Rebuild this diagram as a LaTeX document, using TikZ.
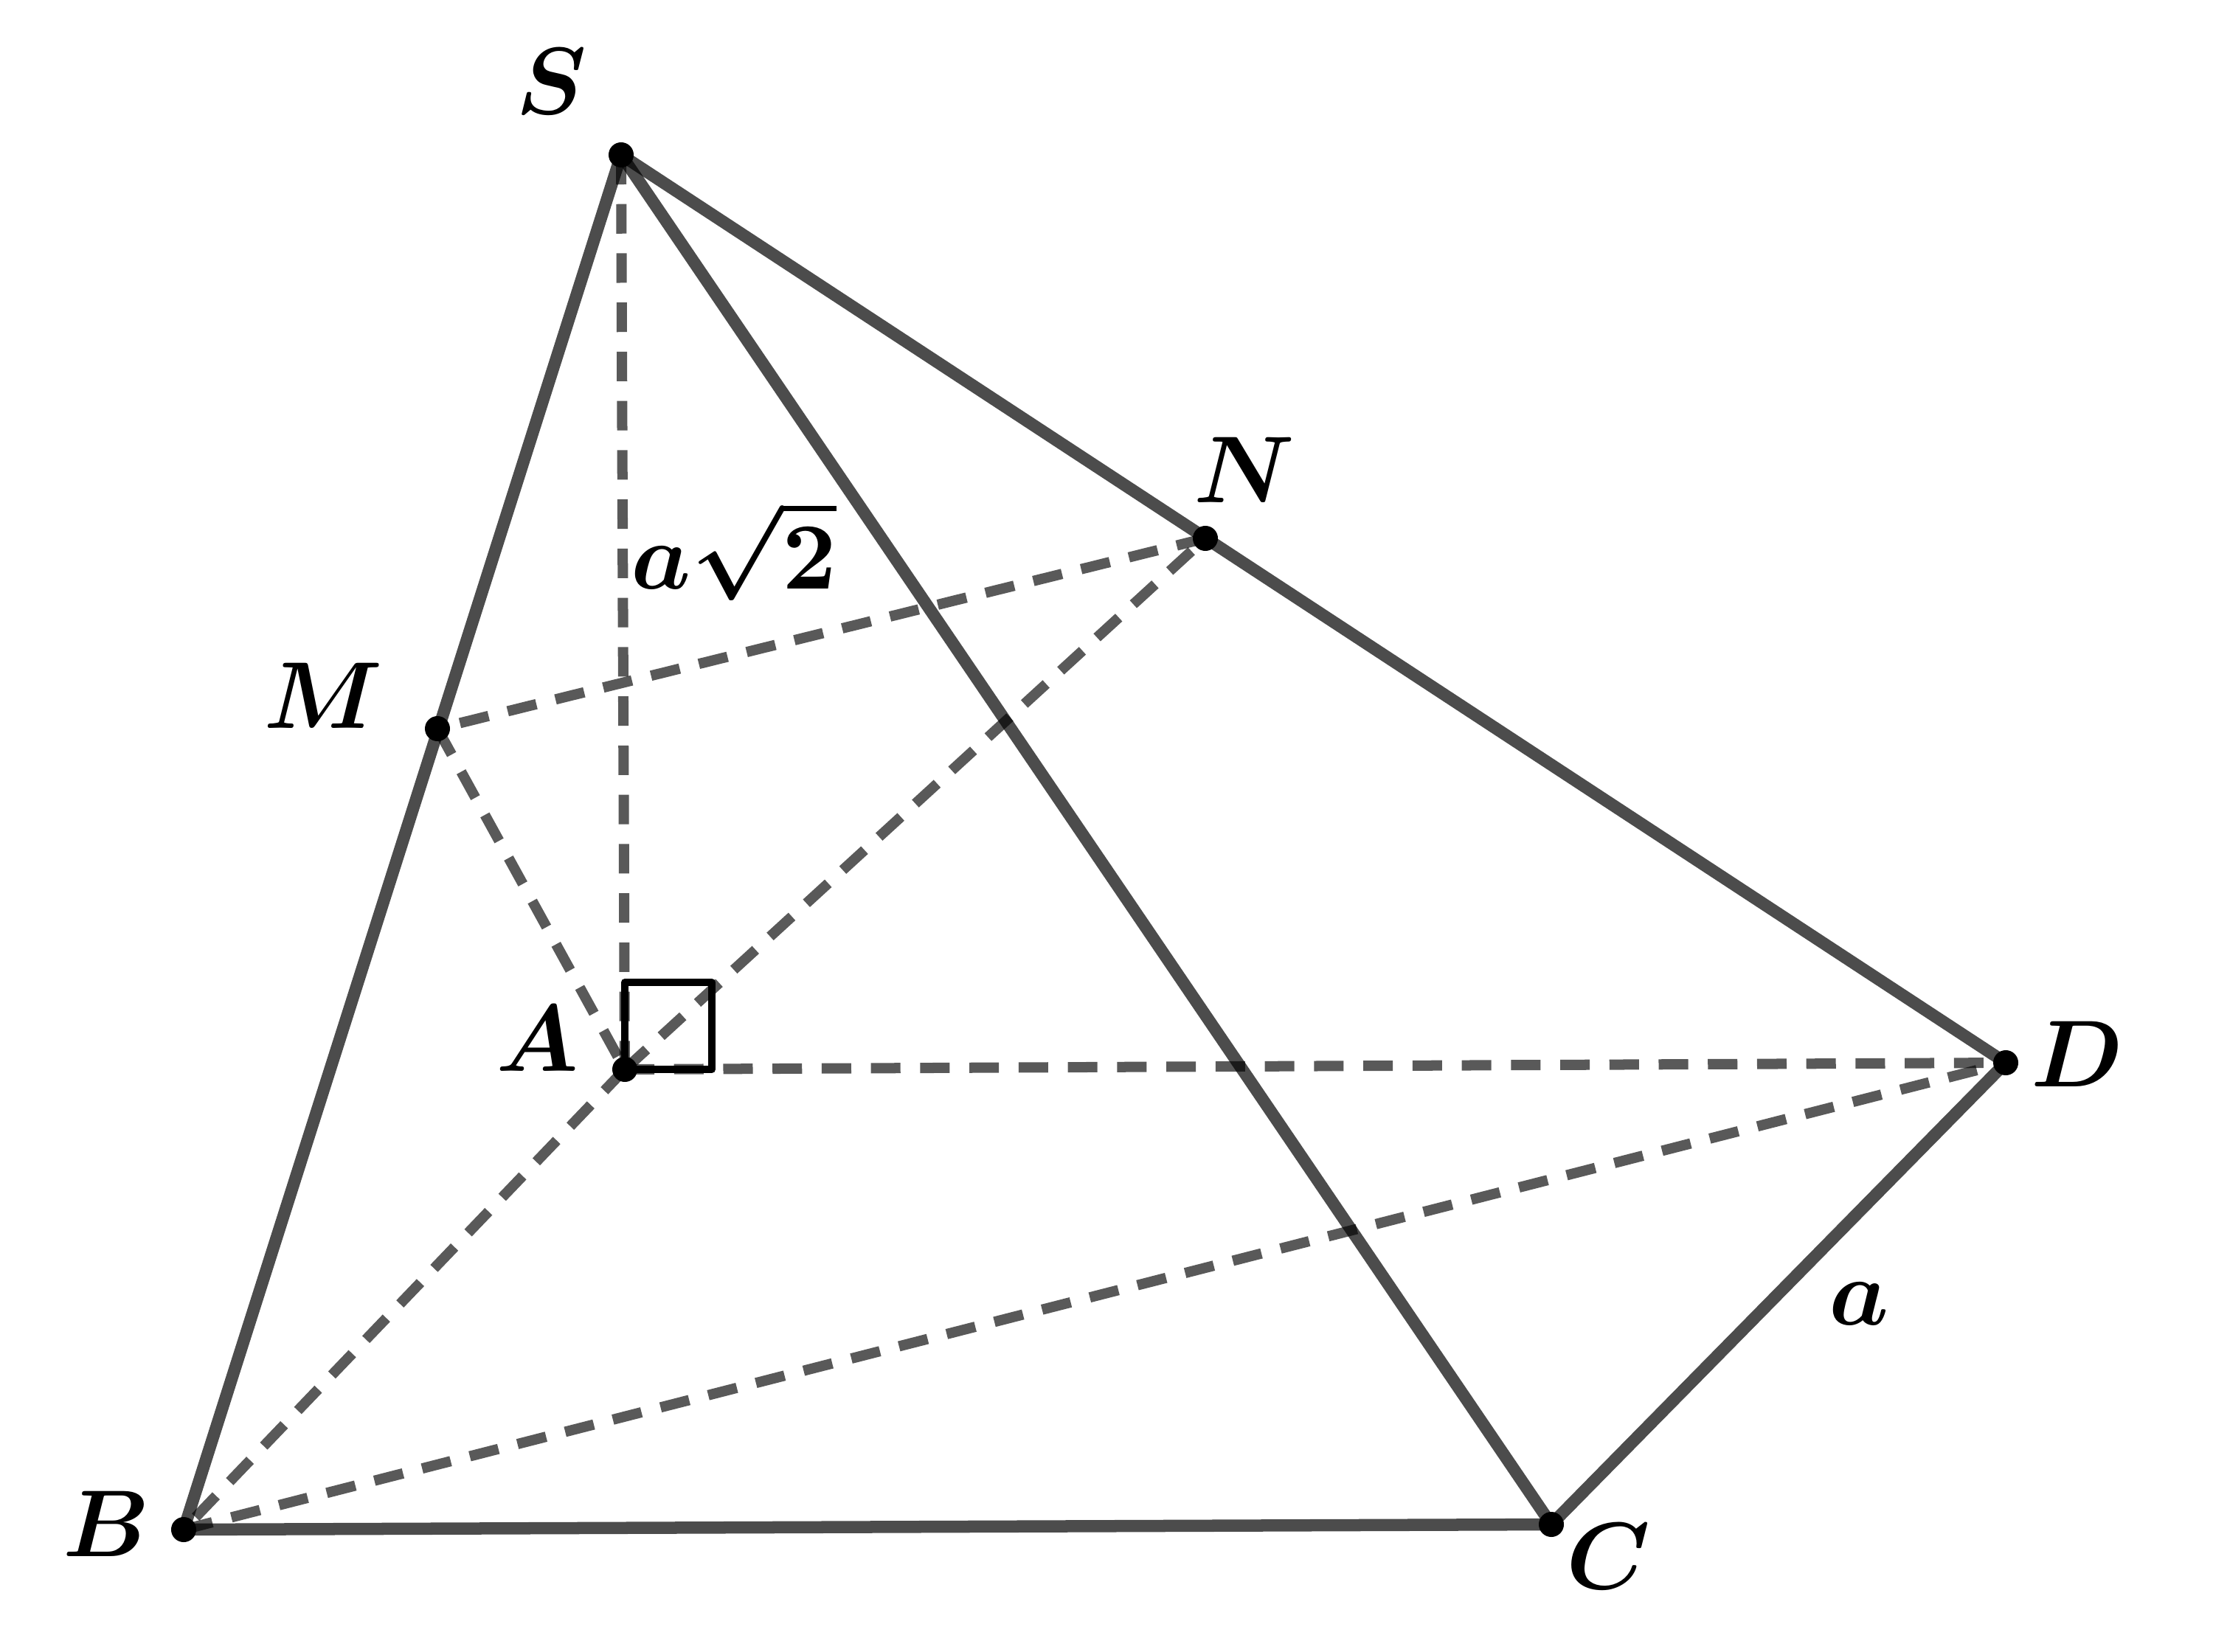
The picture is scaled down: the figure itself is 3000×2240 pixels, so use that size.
\documentclass[tikz,border=0pt]{standalone}
\usepackage{amsmath}
\tikzset{
  solidedge/.style={line width=0.165cm,draw=black,draw opacity=0.7,line cap=butt},
  hiddenedge/.style={line width=0.14cm,draw=black,draw opacity=0.65,dash pattern=on 0.40cm off 0.267cm},
  vertexdot/.style={circle,fill=black,inner sep=0pt,minimum size=0.34cm},
  ptlabel/.style={inner sep=0pt,scale=3.66,font=\fontsize{10}{12}\selectfont\boldmath},
  rightmark/.style={line width=0.10cm,draw=black,line join=round}
}
\begin{document}
\begin{tikzpicture}[x=0.01cm,y=-0.01cm]
\useasboundingbox (0,0) rectangle (3000,2240);
\fill[white] (0,0) rectangle (3000,2240);
\coordinate (S) at (842,210);
\coordinate (N) at (1634,730);
\coordinate (D) at (2719,1441);
\coordinate (C) at (2103,2067);
\coordinate (B) at (249,2074);
\coordinate (A) at (847,1450);
\coordinate (M) at (593,988);
\coordinate (R1) at (847,1332);
\coordinate (R2) at (965,1332);
\coordinate (R3) at (965,1450);
% hidden edges
\draw[hiddenedge] (S) -- (A);
\draw[hiddenedge] (N) -- (M);
\draw[hiddenedge] (M) -- (A);
\draw[hiddenedge] (A) -- (B);
\draw[hiddenedge] (A) -- (N);
\draw[hiddenedge] (A) -- (D);
\draw[hiddenedge] (B) -- (D);
% visible edges
\draw[solidedge] (S) -- (B);
\draw[solidedge] (S) -- (C);
\draw[solidedge] (S) -- (D);
\draw[solidedge] (B) -- (C);
\draw[solidedge] (C) -- (D);
% right angle mark
\draw[rightmark] (A) -- (R1) -- (R2) -- (R3) -- cycle;
% vertices
\foreach \p/\q in {S/Sd,N/Nd,D/Dd,C/Cd,B/Bd,A/Ad,M/Md}
  \node[vertexdot] (\q) at (\p) {};
% labels
\node[ptlabel] (lS) at (748,110) {$S$};
\node[ptlabel] (lA) at (728,1408) {$A$};
\node[ptlabel] (lM) at (438,943) {$M$};
\node[ptlabel] (lN) at (1687,637) {$N$};
\node[ptlabel] (lh) at (995,746) {$a\sqrt{2}$};
\node[ptlabel] (lD) at (2816,1429) {$D$};
\node[ptlabel] (la) at (2520,1768) {$a$};
\node[ptlabel] (lC) at (2181,2110) {$C$};
\node[ptlabel] (lB) at (144,2066) {$B$};
\end{tikzpicture}
\end{document}
